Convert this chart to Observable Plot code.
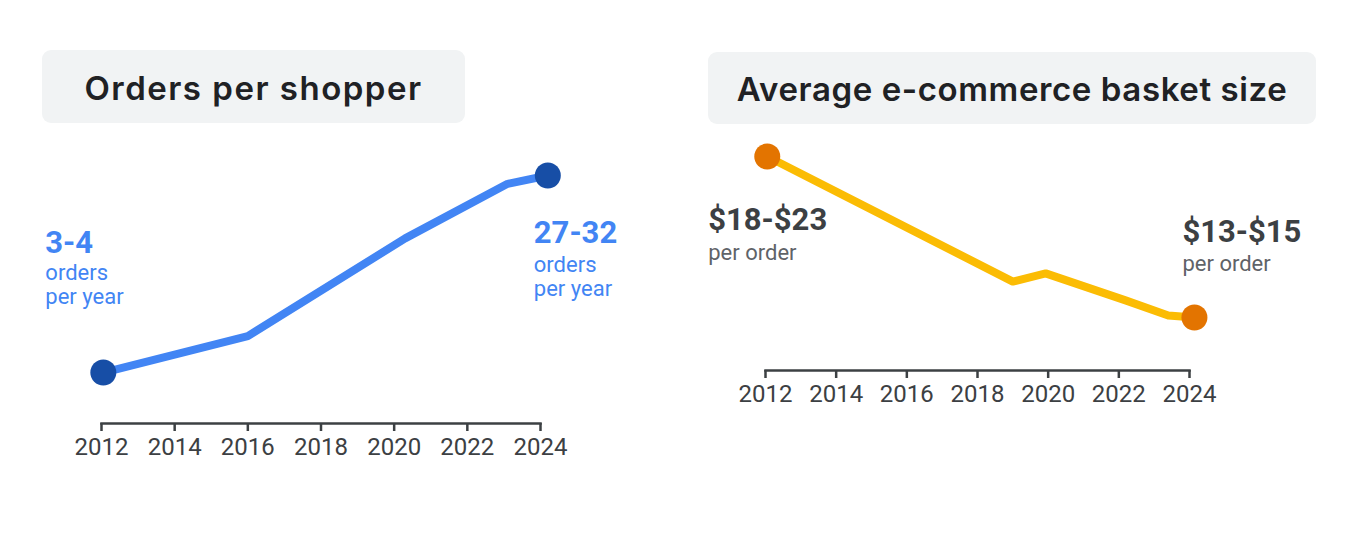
<!DOCTYPE html>
<html><head><meta charset="utf-8">
<script src="https://cdn.jsdelivr.net/npm/d3@7"></script>
<script src="https://cdn.jsdelivr.net/npm/@observablehq/plot@0.6"></script>
<style>
body{margin:0;background:#fff;width:1347px;height:559px;position:relative;overflow:hidden;font-family:Roboto,sans-serif}
.title{position:absolute;background:#f1f3f4;border-radius:9px;display:flex;align-items:center;justify-content:center;font-family:Inter,sans-serif;font-weight:600;color:#202124;font-size:33px;padding-top:2px;box-sizing:border-box}
.chart{position:absolute}
</style></head><body>
<div class="title" style="left:42px;top:50px;width:423px;height:73px;letter-spacing:1.5px">Orders per shopper</div>
<div class="title" style="left:708px;top:52px;width:608px;height:72px;letter-spacing:0.6px">Average e-commerce basket size</div>
<div class="chart" id="c1" style="left:0px;top:130px"></div>
<div class="chart" id="c2" style="left:700px;top:130px"></div>
<script>
// Orders per shopper (midpoint of range, shape)
const ordersYears = [2012.05, 2016, 2020.3, 2023.1, 2024.2];
const ordersValues = [3.5, 8.3, 21.2, 28.4, 29.5];
const ordersLabels = ["3-4", "27-32"];
const ordersSub = "orders\nper year";

// Average basket size ($, midpoint of range)
const basketYears = [2012.05, 2019, 2019.93, 2022.19, 2023.4, 2024.14];
const basketValues = [20.5, 15.45, 15.78, 14.69, 14.08, 14.0];
const basketLabels = ["$18-$23", "$13-$15"];
const basketSub = "per order";

const tickYears = [2012, 2014, 2016, 2018, 2020, 2022, 2024];

const orders = ordersYears.map((y, i) => ({year: y, value: ordersValues[i]}));
const basket = basketYears.map((y, i) => ({year: y, value: basketValues[i]}));
const oEnds = [{...orders[0], label: ordersLabels[0]}, {...orders[orders.length-1], label: ordersLabels[1]}];
const bEnds = [{...basket[0], label: basketLabels[0]}, {...basket[basket.length-1], label: basketLabels[1]}];

const axisCommon = {ticks: tickYears, tickFormat: "d", tickSize: 8, tickPadding: 6, fontSize: 24, strokeWidth: 2.5, label: null};

const p1 = Plot.plot({
  width: 660, height: 340,
  marginLeft: 101, marginRight: 120, marginTop: 45, marginBottom: 47,
  x: {domain: [2012, 2024]},
  y: {domain: [-3.23, 29.5], axis: null},
  style: {fontFamily: "Roboto, sans-serif", color: "#3c4043", overflow: "visible"},
  marks: [
    Plot.frame({anchor: "bottom", stroke: "#3c4043", strokeWidth: 2.5}),
    Plot.axisX(axisCommon),
    Plot.line(orders, {x: "year", y: "value", stroke: "#4285f4", strokeWidth: 8, strokeLinejoin: "round"}),
    Plot.dot(oEnds, {x: "year", y: "value", r: 13, fill: "#174ea6"}),
    Plot.text([oEnds[0]], {x: "year", y: "value", text: "label", textAnchor: "start", dx: -58, dy: -129, fontSize: 31, fontWeight: 700, fill: "#4285f4"}),
    Plot.text([oEnds[0]], {x: "year", y: "value", text: () => ordersSub, textAnchor: "start", dx: -58, dy: -88, fontSize: 22, lineHeight: 1.09, fill: "#4285f4"}),
    Plot.text([oEnds[1]], {x: "year", y: "value", text: "label", textAnchor: "start", dx: -14, dy: 58, fontSize: 31, fontWeight: 700, fill: "#4285f4"}),
    Plot.text([oEnds[1]], {x: "year", y: "value", text: () => ordersSub, textAnchor: "start", dx: -14, dy: 101, fontSize: 22, lineHeight: 1.09, fill: "#4285f4"})
  ]
});
document.getElementById("c1").append(p1);

const p2 = Plot.plot({
  width: 640, height: 300,
  marginLeft: 65, marginRight: 151, marginTop: 26, marginBottom: 60,
  x: {domain: [2012, 2024]},
  y: {domain: [11.86, 20.5], axis: null},
  style: {fontFamily: "Roboto, sans-serif", color: "#3c4043", overflow: "visible"},
  marks: [
    Plot.frame({anchor: "bottom", stroke: "#3c4043", strokeWidth: 2.5}),
    Plot.axisX(axisCommon),
    Plot.line(basket, {x: "year", y: "value", stroke: "#fbbc04", strokeWidth: 8, strokeLinejoin: "round"}),
    Plot.dot(bEnds, {x: "year", y: "value", r: 13, fill: "#e37400"}),
    Plot.text([bEnds[0]], {x: "year", y: "value", text: "label", textAnchor: "start", dx: -59, dy: 64, fontSize: 31, fontWeight: 700, fill: "#3c4043"}),
    Plot.text([bEnds[0]], {x: "year", y: "value", text: () => basketSub, textAnchor: "start", dx: -59, dy: 96, fontSize: 22, fill: "#5f6368"}),
    Plot.text([bEnds[1]], {x: "year", y: "value", text: "label", textAnchor: "start", dx: -12, dy: -85, fontSize: 31, fontWeight: 700, fill: "#3c4043"}),
    Plot.text([bEnds[1]], {x: "year", y: "value", text: () => basketSub, textAnchor: "start", dx: -12, dy: -54, fontSize: 22, fill: "#5f6368"})
  ]
});
document.getElementById("c2").append(p2);
</script>
</body></html>
